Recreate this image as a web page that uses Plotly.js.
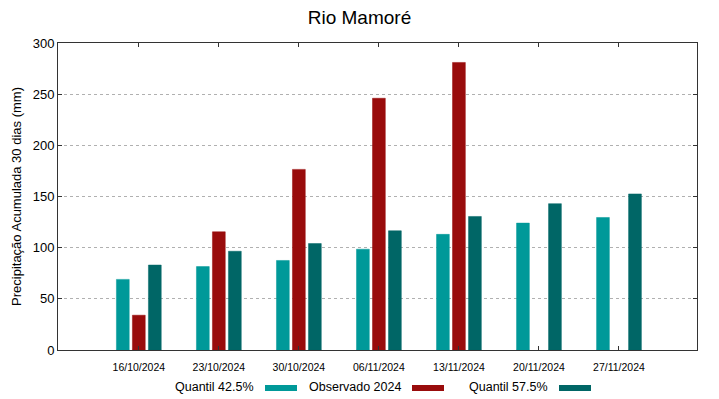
<!DOCTYPE html>
<html>
<head>
<meta charset="utf-8">
<script src="https://cdn.plot.ly/plotly-3.0.1.min.js"></script>
<style>html,body{margin:0;padding:0;background:#fff;}#chart{width:719px;height:399px;}</style>
</head>
<body>
<div id="chart"></div>
<script>
const dates = ["16/10/2024","23/10/2024","30/10/2024","06/11/2024","13/11/2024","20/11/2024","27/11/2024"];
const quantil425 = [69, 81.5, 87.5, 98.5, 113, 124, 129.5];
const observado2024 = [34, 115.5, 176.5, 246, 281, null, null];
const quantil575 = [83, 96.5, 104, 116.5, 130.5, 143, 152.5];
const seriesNames = ["Quantil 42.5%", "Observado 2024", "Quantil 57.5%"];
const colors = ["#009999", "#990c0c", "#006666"];

const allSeries = [quantil425, observado2024, quantil575];
const offsets = [-0.28, -0.08, 0.12];
const traces = allSeries.map((vals, i) => ({
  type: "bar",
  x: dates,
  y: vals,
  name: seriesNames[i],
  width: 0.16,
  offset: offsets[i],
  marker: {color: colors[i], line: {color: colors[i], width: 0.5}},
  showlegend: false
}));

// gnuplot-style legend: text followed by sample line
const legendTextRight = [256, 403, 550];
const annotations = [];
const shapes = [];
seriesNames.forEach((n, i) => {
  annotations.push({
    xref: "paper", yref: "paper",
    x: (legendTextRight[i] - 58) / 639, y: (399 - 387 - 49) / 307,
    xanchor: "right", yanchor: "middle",
    text: n, showarrow: false,
    font: {family: "Liberation Sans, Arial, sans-serif", size: 12.5, color: "#000"}
  });
  const x0 = legendTextRight[i] + 9;
  shapes.push({
    type: "line", xref: "paper", yref: "paper",
    x0: (x0 - 58) / 639, x1: (x0 + 32 - 58) / 639,
    y0: (399 - 388 - 49) / 307, y1: (399 - 388 - 49) / 307,
    line: {color: colors[i], width: 6}
  });
});

const layout = {
  width: 719, height: 399,
  margin: {l: 58, r: 22, t: 43, b: 49},
  paper_bgcolor: "#fff", plot_bgcolor: "#fff",
  barmode: "overlay",
  title: {text: "Rio Mamoré", x: 0.5, xanchor: "center", y: 0.957, yanchor: "middle",
          font: {family: "Liberation Sans, Arial, sans-serif", size: 19, color: "#000"}},
  xaxis: {
    type: "category", range: [-1.01, 6.975],
    showline: true, linecolor: "#333", linewidth: 1, mirror: "ticks",
    ticks: "inside", ticklen: 4, tickcolor: "#333",
    ticklabelstandoff: 7,
    showgrid: false, zeroline: false,
    tickfont: {family: "Liberation Sans, Arial, sans-serif", size: 10.5, color: "#000"}
  },
  yaxis: {
    range: [0, 300], tickvals: [0, 50, 100, 150, 200, 250, 300],
    showline: true, linecolor: "#333", linewidth: 1, mirror: "ticks",
    ticks: "inside", ticklen: 4, tickcolor: "#333",
    showgrid: true, gridcolor: "#b0b0b0", griddash: "dot", gridwidth: 1,
    zeroline: false,
    tickfont: {family: "Liberation Sans, Arial, sans-serif", size: 13, color: "#000"},
    title: {text: "Precipitação Acumulada 30 dias (mm)", standoff: 8,
            font: {family: "Liberation Sans, Arial, sans-serif", size: 13, color: "#000"}}
  },
  annotations: annotations,
  shapes: shapes
};

Plotly.newPlot("chart", traces, layout, {displayModeBar: false, staticPlot: true});
</script>
</body>
</html>
